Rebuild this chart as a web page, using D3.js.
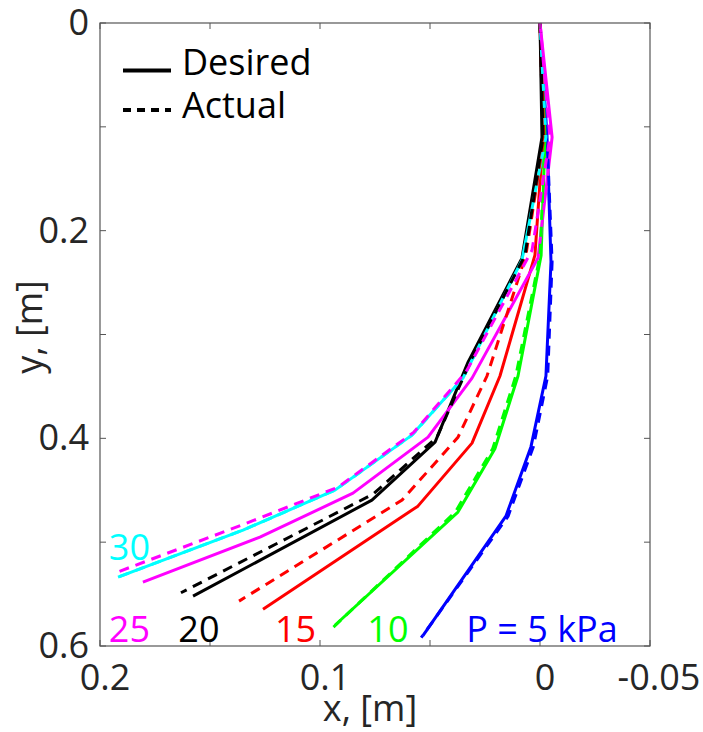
<!DOCTYPE html>
<html>
<head>
<meta charset="utf-8">
<script src="https://cdn.jsdelivr.net/npm/d3@7"></script>
<style>
  body { margin: 0; background: #fff; }
  text { font-family: "Open Sans", "Noto Sans", sans-serif; }
</style>
</head>
<body>
<script>
'use strict';

// pressures, kPa, with line colours
var pressures = [5, 10, 15, 20, 25, 30];
var colors = ['#0000ff', '#00ff00', '#ff0000', '#000000', '#ff00ff', '#00ffff'];

// desired shapes (x, y in m), one array per pressure
var desX = [
  [0, -0.0032, -0.005, -0.0027, 0.0041, 0.0155, 0.0532],
  [0, -0.0023, -0.0005, 0.010, 0.0205, 0.0373, 0.0932],
  [0, -0.0014, 0.0023, 0.0182, 0.0309, 0.0555, 0.1259],
  [0, -0.0009, 0.0082, 0.0327, 0.0477, 0.0764, 0.1577],
  [0, -0.0055, 0.0009, 0.0309, 0.0509, 0.085, 0.1273, 0.1805],
  [0, -0.0027, 0.0082, 0.035, 0.0582, 0.0932, 0.135, 0.1918]
];
var desY = [
  [0, 0.11, 0.23, 0.34, 0.408, 0.475, 0.59],
  [0, 0.11, 0.224, 0.34, 0.41, 0.471, 0.58],
  [0, 0.11, 0.2235, 0.34, 0.4046, 0.4653, 0.5646],
  [0, 0.11, 0.2264, 0.3266, 0.4037, 0.4595, 0.552],
  [0, 0.11, 0.2264, 0.342, 0.3988, 0.4528, 0.4952, 0.5385],
  [0, 0.11, 0.2283, 0.342, 0.3969, 0.4499, 0.4884, 0.5337]
];

// actual (measured) shapes
var actX = [
  [0, -0.0032, -0.0055, -0.0035, 0.003, 0.0145, 0.054],
  [0, -0.0023, 0.0, 0.011, 0.0215, 0.0385, 0.094],
  [0, -0.0018, 0.0064, 0.0241, 0.0373, 0.0627, 0.1368],
  [0, -0.0014, 0.0068, 0.0314, 0.0468, 0.0759, 0.1632],
  [0, -0.0045, 0.0036, 0.0336, 0.0573, 0.0918, 0.1345, 0.1918],
  [0, -0.0027, 0.0082, 0.035, 0.0582, 0.0932, 0.135, 0.1918]
];
var actY = [
  [0, 0.11, 0.23, 0.34, 0.408, 0.475, 0.592],
  [0, 0.11, 0.224, 0.34, 0.41, 0.471, 0.582],
  [0, 0.11, 0.2235, 0.34, 0.399, 0.4595, 0.5568],
  [0, 0.11, 0.2235, 0.3247, 0.3988, 0.4538, 0.5487],
  [0, 0.11, 0.2187, 0.336, 0.394, 0.447, 0.4827, 0.5286],
  [0, 0.11, 0.2283, 0.342, 0.3969, 0.4499, 0.4884, 0.5337]
];

// curve labels
var labelText = ['P = 5 kPa', '10', '15', '20', '25', '30'];
var labelX = [0.0335, 0.0785, 0.1205, 0.1644, 0.196, 0.196];
var labelY = [0.586, 0.586, 0.586, 0.586, 0.586, 0.507];

var xTicks = [0.2, 0.15, 0.1, 0.05, 0, -0.05];
var xTickLabels = ['0.2', '', '0.1', '', '0', '-0.05'];
var yTicks = [0, 0.1, 0.2, 0.3, 0.4, 0.5, 0.6];
var yTickLabels = ['0', '', '0.2', '', '0.4', '', '0.6'];

var width = 703, height = 732;
var plotLeft = 100, plotRight = 650, plotTop = 23, plotBottom = 646;
var axisColor = '#555';
var textColor = '#262626';
var fontSize = '36px';

var svg = d3.select('body').append('svg')
    .attr('width', width)
    .attr('height', height);

var x = d3.scaleLinear().domain([0.2, -0.05]).range([plotLeft, plotRight]);
var y = d3.scaleLinear().domain([0, 0.6]).range([plotTop, plotBottom]);

var line = d3.line()
    .x(function (d) { return x(d[0]); })
    .y(function (d) { return y(d[1]); });

function pts(xs, ys) {
  return xs.map(function (v, i) { return [v, ys[i]]; });
}

var plot = svg.append('g');

// hidden cyan actual first, then desired, then the other actuals on top
var dashArr = '10,7';
plot.append('path')
    .attr('d', line(pts(actX[5], actY[5])))
    .attr('fill', 'none').attr('stroke', colors[5])
    .attr('stroke-width', 3).attr('stroke-dasharray', dashArr);

var solidOrder = [0, 1, 2, 3, 5, 4];
solidOrder.forEach(function (i) {
  plot.append('path')
      .attr('d', line(pts(desX[i], desY[i])))
      .attr('fill', 'none').attr('stroke', colors[i])
      .attr('stroke-width', 3).attr('stroke-linejoin', 'round');
});

[0, 1, 2, 3, 4].forEach(function (i) {
  plot.append('path')
      .attr('d', line(pts(actX[i], actY[i])))
      .attr('fill', 'none').attr('stroke', colors[i])
      .attr('stroke-width', 3).attr('stroke-dasharray', dashArr);
});

// box and inward ticks on all four sides
svg.append('rect')
    .attr('x', plotLeft).attr('y', plotTop)
    .attr('width', plotRight - plotLeft).attr('height', plotBottom - plotTop)
    .attr('fill', 'none').attr('stroke', axisColor).attr('stroke-width', 1.2);

var tl = 6;
xTicks.forEach(function (t) {
  svg.append('line').attr('x1', x(t)).attr('x2', x(t)).attr('y1', plotBottom).attr('y2', plotBottom - tl)
      .attr('stroke', axisColor);
  svg.append('line').attr('x1', x(t)).attr('x2', x(t)).attr('y1', plotTop).attr('y2', plotTop + tl)
      .attr('stroke', axisColor);
});
yTicks.forEach(function (t) {
  svg.append('line').attr('x1', plotLeft).attr('x2', plotLeft + tl).attr('y1', y(t)).attr('y2', y(t))
      .attr('stroke', axisColor);
  svg.append('line').attr('x1', plotRight).attr('x2', plotRight - tl).attr('y1', y(t)).attr('y2', y(t))
      .attr('stroke', axisColor);
});

// tick labels
svg.selectAll('.xlab').data(xTicks).enter().append('text')
    .attr('x', function (d) { return x(d) + (d < 0 ? 9 : 5); })
    .attr('y', 690)
    .attr('text-anchor', 'middle')
    .style('font-size', fontSize)
    .attr('fill', textColor)
    .text(function (d, i) { return xTickLabels[i]; });

svg.selectAll('.ylab').data(yTicks).enter().append('text')
    .attr('x', 89)
    .attr('y', function (d) { return y(d) + 12; })
    .attr('text-anchor', 'end')
    .style('font-size', fontSize)
    .attr('fill', textColor)
    .text(function (d, i) { return yTickLabels[i]; });

// axis titles
svg.append('text')
    .attr('x', 370).attr('y', 721)
    .attr('text-anchor', 'middle')
    .style('font-size', fontSize)
    .attr('fill', textColor)
    .text('x, [m]');

svg.append('text')
    .attr('transform', 'translate(42,327) rotate(-90)')
    .attr('text-anchor', 'middle')
    .style('font-size', fontSize)
    .attr('fill', textColor)
    .text('y, [m]');

// curve labels
labelText.forEach(function (t, i) {
  svg.append('text')
      .attr('x', x(labelX[i])).attr('y', y(labelY[i]) + 11)
      .style('font-size', fontSize)
      .attr('fill', colors[i])
      .text(t);
});

// legend
var legend = svg.append('g');
legend.append('line').attr('x1', 123).attr('x2', 171).attr('y1', 70.5).attr('y2', 70.5)
    .attr('stroke', '#000').attr('stroke-width', 4);
legend.append('line').attr('x1', 123).attr('x2', 171).attr('y1', 110).attr('y2', 110)
    .attr('stroke', '#000').attr('stroke-width', 4).attr('stroke-dasharray', '8,6');
legend.append('text').attr('x', 182).attr('y', 75)
    .style('font-size', fontSize).attr('fill', '#000').text('Desired');
legend.append('text').attr('x', 182).attr('y', 118)
    .style('font-size', fontSize).attr('fill', '#000').text('Actual');
</script>
</body>
</html>
